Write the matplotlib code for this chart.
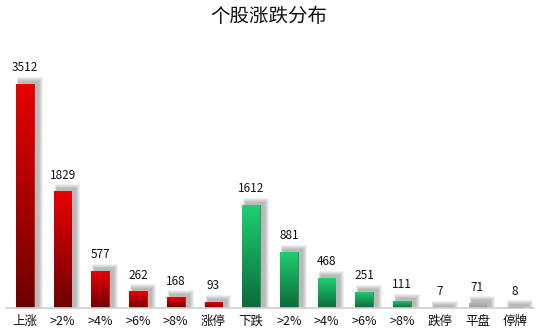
import matplotlib.pyplot as plt
import numpy as np
from matplotlib.colors import LinearSegmentedColormap
import matplotlib.patches as mpatches

plt.rcParams['font.family'] = ['Noto Sans CJK SC', 'DejaVu Sans']

categories = ["上涨", ">2%", ">4%", ">6%", ">8%", "涨停", "下跌", ">2%", ">4%", ">6%", ">8%", "跌停", "平盘", "停牌"]
values = [3512, 1829, 577, 262, 168, 93, 1612, 881, 468, 251, 111, 7, 71, 8]
groups = ["red"] * 6 + ["green"] * 6 + ["flat", "halt"]

# top colour, bottom colour for each group
grad = {
    "red": ("#e80000", "#6e0000"),
    "green": ("#1ed070", "#0b6a3a"),
    "flat": ("#b0b0b0", "#a0a0a0"),
    "halt": ("#404040", "#404040"),
}
edge = {"red": "#c00000", "green": "#148a4a", "flat": "#a8a8a8", "halt": "#404040"}

fig = plt.figure(figsize=(5.38, 3.32), dpi=100)
ax = fig.add_axes([6 / 538, 24 / 332, 528 / 538, 263 / 332])

ymax = 263 / (224 / 3512)
ax.set_xlim(-0.5, len(values) - 0.5)
ax.set_ylim(0, ymax)

width = 0.47
x = np.arange(len(values))
px_x = len(values) / 528.0     # data units per pixel, x
px_y = ymax / 263.0            # data units per pixel, y

grad_img = np.linspace(1, 0, 256).reshape(-1, 1)

for xi, v, g in zip(x, values, groups):
    # soft shadow up and to the right
    for k in range(5):
        grow = (4 - k) * 1.0
        left = xi - width / 2 + (3 - grow * 0.5) * px_x
        sh = mpatches.Rectangle(
            (left, 0),
            width + (2 + grow * 1.5) * px_x, v + (3 + grow) * px_y,
            facecolor="#000000", alpha=0.06, linewidth=0, zorder=2)
        ax.add_patch(sh)
    bar = ax.bar(xi, v, width=width, color="none", edgecolor=edge[g],
                 linewidth=0.6, zorder=3)[0]
    top, bot = grad[g]
    cmap = LinearSegmentedColormap.from_list(g, [bot, top])
    im = ax.imshow(grad_img, cmap=cmap, aspect="auto", origin="upper",
                   extent=(xi - width / 2, xi + width / 2, 0, v), zorder=4)
    im.set_clip_path(bar)
    ax.annotate(str(v), (xi, v), xytext=(0, 7), textcoords="offset points",
                ha="center", va="bottom", fontsize=8.5, color="#111111", zorder=5)

ax.set_xlim(-0.5, len(values) - 0.5)
ax.set_ylim(0, ymax)
ax.set_xticks(x)
ax.set_xticklabels(categories, fontsize=9, color="#111111")
ax.tick_params(axis="x", length=0, pad=5)
ax.set_yticks([])
for s in ["top", "left", "right"]:
    ax.spines[s].set_visible(False)
ax.spines["bottom"].set_color("#d0d0d0")
ax.spines["bottom"].set_linewidth(1.2)
ax.spines["bottom"].set_zorder(6)

fig.text(0.5, 1 - 17 / 332, "个股涨跌分布", ha="center", va="center",
         fontsize=14, color="#111111")

fig.savefig("out.png", dpi=100)
